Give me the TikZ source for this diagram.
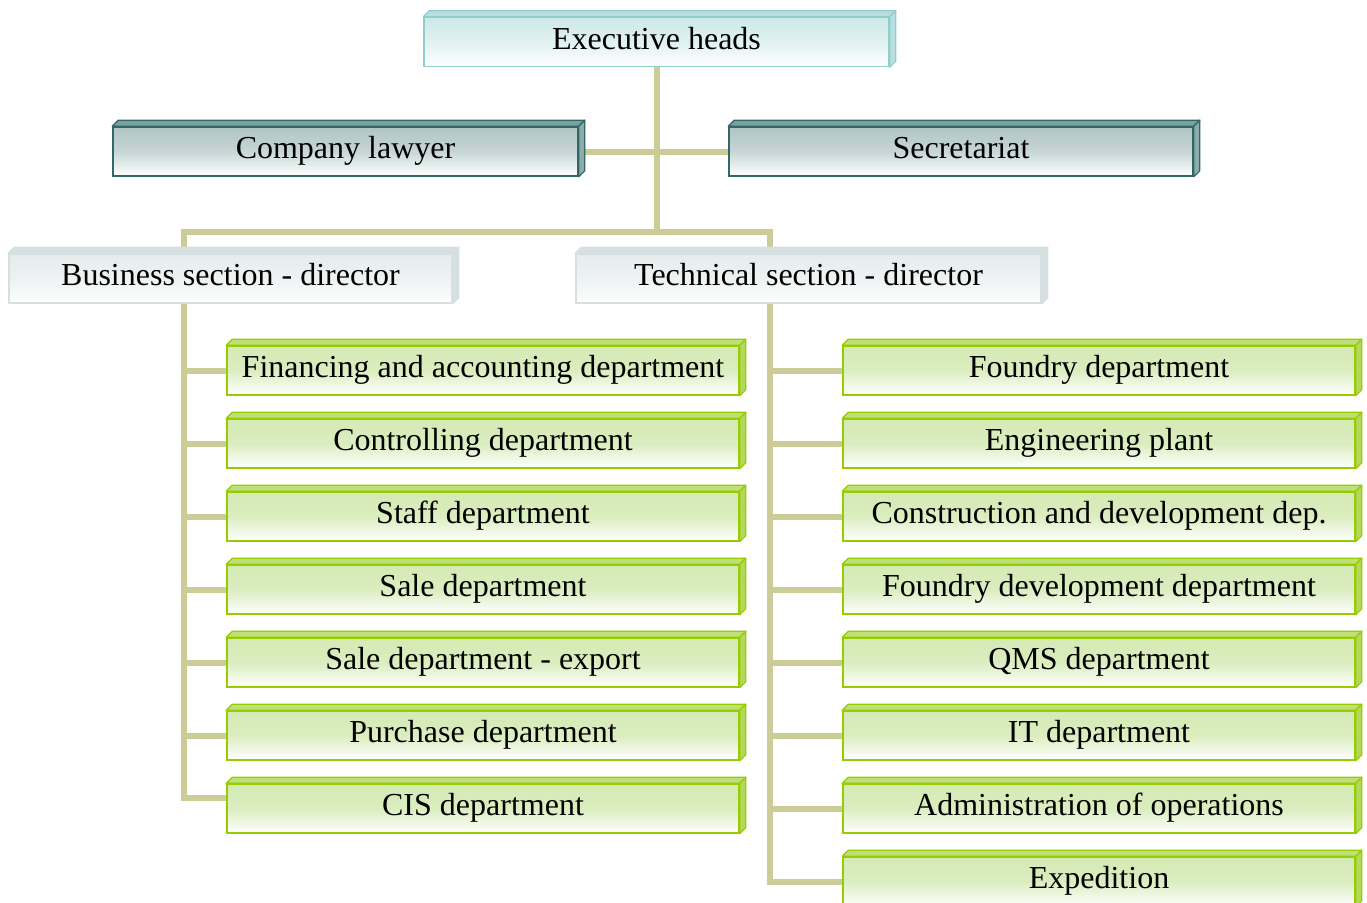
\documentclass[tikz,border=0pt]{standalone}
\usepackage{fontspec}
\setmainfont{Liberation Serif}
\usepackage{xcolor}
\usetikzlibrary{positioning,calc}

\definecolor{linktan}{RGB}{204,204,153}
\definecolor{greenrim}{RGB}{153,204,0}
\definecolor{greenfill}{RGB}{212,234,180}
\definecolor{greentop}{RGB}{190,224,120}
\definecolor{greenside}{RGB}{178,216,92}
\definecolor{execrim}{RGB}{146,205,205}
\definecolor{execfill}{RGB}{205,232,232}
\definecolor{exectop}{RGB}{184,222,222}
\definecolor{darkrim}{RGB}{51,102,102}
\definecolor{darkfill}{RGB}{176,196,196}
\definecolor{darktop}{RGB}{122,160,160}
\definecolor{darkside}{RGB}{140,172,172}
\definecolor{secrim}{RGB}{214,224,224}
\definecolor{secfill}{RGB}{230,236,236}

\tikzset{
    unit/.style={minimum width=465, minimum height=49, inner sep=0pt,
        text height=22, text depth=8,
        line width=1.6pt, font=\fontsize{32}{36}\selectfont},
    headbox/.style={unit, draw=execrim, top color=execfill, bottom color=white, middle color=execfill!60!white},
    staffbox/.style={unit, draw=darkrim, top color=darkfill, bottom color=white, middle color=darkfill!70!white},
    sectbox/.style={unit, draw=secrim, top color=secfill, bottom color=white!97!secfill, middle color=secfill!70!white},
    depbox/.style={unit, minimum width=512, draw=greenrim, top color=greenfill, bottom color=white, middle color=greenfill!85!white},
    link/.style={draw=linktan, line width=6pt}
}

% 3D rim on top and right of a box
\newcommand{\rim}[4]{
    \filldraw[fill=#2, draw=#4, line width=1.2pt, line join=round]
        (#1.north west) -- ++(6,-6) -- ($(#1.north east)+(6,-6)$) -- (#1.north east) -- cycle;
    \filldraw[fill=#3, draw=#4, line width=1.2pt, line join=round]
        (#1.north east) -- ++(6,-6) -- ($(#1.south east)+(6,-6)$) -- (#1.south east) -- cycle;
}

\begin{document}
\begin{tikzpicture}[x=1pt,y=-1pt]
    \path[use as bounding box, clip] (0,0) rectangle (1367,902);

    % trunk points
    \coordinate (hub) at (656.5,232);
    \coordinate (bustop) at (183.5,232);
    \coordinate (techtop) at (770,232);

    % Top of the chart
    \node[headbox] (exec) at (656.5,42) {Executive heads};
    \node[staffbox] (lawyer) at (345.5,151.5) {Company lawyer};
    \node[staffbox, minimum width=464] (secr) at (961,151.5) {Secretariat};

    % connectors
    \draw[link] (exec.south) -- (hub);
    \draw[link] (lawyer.east) -- (secr.west);
    \draw[link] ($(bustop)+(0,30)$) -- (bustop) -- (techtop) -- ++(0,30);

    % Sections
    \node[sectbox, minimum width=443] (bus) at (230.5,278.5) {Business section - director};
    \node[sectbox] (tech) at (808.5,278.5) {Technical section - director};

    % Business departments
    \foreach \n/\y/\txt in {fin/370.5/Financing and accounting department,
                            ctrl/443.5/Controlling department,
                            staff/516.5/Staff department,
                            sale/589.5/Sale department,
                            export/662.5/Sale department - export,
                            purch/735.5/Purchase department,
                            cis/808.5/CIS department} {
        \node[depbox] (\n) at (483,\y) {\txt};
    }

    % Technical departments
    \foreach \n/\y/\txt in {found/370.5/Foundry department,
                            eng/443.5/Engineering plant,
                            constr/516.5/Construction and development dep.,
                            fdev/589.5/Foundry development department,
                            qms/662.5/QMS department,
                            it/735.5/IT department,
                            admin/808.5/Administration of operations,
                            exped/881.5/Expedition} {
        \node[depbox] (\n) at (1099,\y) {\txt};
    }

    % Business trunk
    \draw[link] (bus.south -| bustop) |- ($(cis.west)+(0,-11)$);
    \foreach \n in {fin,ctrl,staff,sale,export,purch} {
        \draw[link] (\n.west) -- (\n.west -| bustop);
    }

    % Technical trunk
    \draw[link] (tech.south -| techtop) |- (exped.west);
    \foreach \n in {found,eng,constr,fdev,qms,it,admin} {
        \draw[link] (\n.west) -- (\n.west -| techtop);
    }

    % rims
    \rim{exec}{exectop}{exectop}{execrim}
    \rim{lawyer}{darktop}{darkside}{darkrim}
    \rim{secr}{darktop}{darkside}{darkrim}
    \rim{bus}{secrim}{secrim}{secrim}
    \rim{tech}{secrim}{secrim}{secrim}
    \foreach \n in {fin,ctrl,staff,sale,export,purch,cis,found,eng,constr,fdev,qms,it,admin,exped} {
        \rim{\n}{greentop}{greenside}{greenrim}
    }
\end{tikzpicture}
\end{document}
